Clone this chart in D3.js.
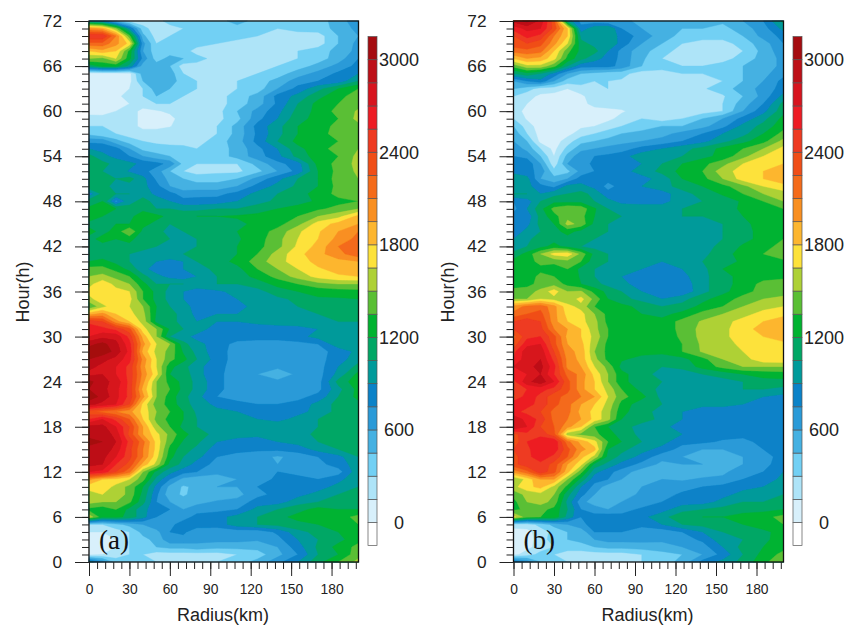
<!DOCTYPE html>
<html>
<head>
  <title>Hour radius sections</title>
  <script src="https://d3js.org/d3.v7.min.js"></script>
  <style>
    body { margin: 0; background: white; }
    text { font-family: "Liberation Sans", sans-serif; fill: #222; }
  </style>
</head>
<body>
  <div id="chart"></div>
  <script>
    // radius (km) of each column, hour of each row (top row first)
    var radii = [0,10,20,30,40,50,60,70,80,95,110,125,140,155,170,185,200];
    var hours = [72,71,70,69,68,67,66,65,64,63,62,61,60,59,58,57,56,55,54,53,52,51,50,49,48,47,46,45,44,43,42,41,40,39,38,37,36,35,34,33,32,31,30,29,28,27,26,25,24,23,22,21,20,19,18,17,16,15,14,13,12,11,10,9,8,7,6,5,4,3,2,1,0];

    var levels = d3.range(0, 3001, 150);
    var colors = ["#d8f0fb","#aee4f8","#72d0f4","#45b1e2","#2a9ad8","#0a82c8","#009a9a","#00a765","#00b330","#5abf34","#aed136","#fde23a","#fdb62f","#f98f20","#f46b1a","#f04e17","#ee3a20","#ed1c24","#d7141e","#bd1017","#a50c10"];

    var xTicks = [0,30,60,90,120,150,180];
    var yTicks = [0,6,12,18,24,30,36,42,48,54,60,66,72];
    var barLabels = [0,600,1200,1800,2400,3000];

    var panelA = [
      [900,800,450,225,225,225,375,375,375,375,525,375,375,375,375,525,700],
      [2000,1900,1500,900,350,225,225,300,375,375,375,375,300,375,375,500,650],
      [2550,2550,2100,1400,500,225,300,375,375,375,375,300,225,200,225,450,600],
      [2200,2200,2000,1750,650,300,300,375,375,300,225,225,200,150,225,450,650],
      [1800,1900,1800,1300,600,350,375,375,225,225,225,225,225,300,375,500,650],
      [1500,1450,1650,1250,700,375,500,450,375,225,225,225,225,300,375,525,750],
      [1100,1250,1250,1000,525,525,450,225,225,225,225,225,300,375,500,650,800],
      [75,75,75,100,525,600,525,300,225,225,225,300,375,525,650,780,900],
      [75,75,75,100,450,525,525,375,300,225,300,375,500,675,750,800,1050],
      [75,75,80,150,300,525,450,375,300,225,300,375,600,800,1000,1200,1350],
      [75,75,100,225,300,450,375,300,225,225,375,500,800,950,1150,1300,1430],
      [75,75,100,150,225,300,300,225,225,225,375,525,780,1050,1250,1350,1450],
      [75,90,150,225,100,130,180,225,225,240,450,650,850,1100,1250,1400,1520],
      [225,200,150,225,100,100,100,225,225,250,400,700,900,1150,1250,1350,1550],
      [300,300,225,225,100,100,140,225,225,300,500,800,1000,1200,1270,1400,1450],
      [400,300,300,225,225,225,225,225,225,300,500,780,1000,1200,1300,1400,1450],
      [700,700,500,375,300,260,225,200,225,375,525,800,1050,1250,1300,1350,1500],
      [900,850,800,600,400,375,375,375,300,375,500,700,900,1150,1300,1400,1500],
      [1100,950,850,750,600,500,450,400,375,375,500,680,850,1100,1280,1350,1550],
      [1200,1100,1000,950,850,800,700,400,300,300,300,500,700,830,1250,1400,1550],
      [1100,1050,1000,880,800,680,450,300,225,260,260,400,600,800,1200,1400,1530],
      [1150,1150,1050,1100,950,720,550,450,400,400,450,650,850,1050,1200,1420,1500],
      [1200,1100,1000,1000,950,800,600,500,500,500,600,800,950,1080,1200,1400,1450],
      [800,1100,1050,1050,1000,850,800,680,700,700,800,950,1050,1150,1250,1400,1400],
      [1150,1200,700,1000,1100,1000,900,800,800,820,900,1000,1080,1150,1220,1300,1350],
      [1220,1300,1200,1100,1150,1050,1050,1000,1000,1050,1050,1120,1200,1250,1320,1400,1500],
      [1300,1200,1150,1150,1300,1250,1150,1180,1200,1200,1220,1250,1300,1350,1500,1600,1850],
      [1150,1100,1200,1200,1250,1150,1050,1100,1100,1150,1150,1250,1300,1450,1720,1850,1950],
      [1250,1150,1250,1500,1150,1100,1000,1050,1080,1150,1200,1280,1400,1620,1780,1950,2100],
      [1150,1250,1200,1250,1100,1100,1050,1000,1050,1120,1180,1280,1450,1650,1800,2000,2150],
      [1200,1150,1100,1150,1100,1050,1000,1000,1050,1120,1200,1300,1450,1680,1850,2100,2250],
      [1100,1100,1050,1050,1000,950,1000,1050,1100,1150,1200,1350,1560,1750,1900,2050,2200],
      [1200,1250,1150,1050,950,900,850,900,1050,1120,1250,1420,1600,1720,1850,1900,1950],
      [1400,1400,1300,1150,950,820,800,900,1000,1080,1150,1350,1500,1650,1780,1850,1900],
      [1500,1550,1450,1350,1100,950,850,800,900,1050,1120,1250,1400,1560,1700,1780,1800],
      [1600,1750,1600,1500,1250,1050,1050,1050,1000,1050,1050,1120,1250,1350,1450,1500,1500],
      [1700,1750,1700,1650,1350,1150,1000,900,820,870,950,1000,1120,1200,1250,1280,1300],
      [1600,1750,1700,1700,1350,1150,1000,900,800,800,900,950,1020,1080,1180,1180,1200],
      [1350,1600,1750,1650,1500,1200,1050,950,850,850,850,950,1000,1050,1080,1100,1120],
      [1900,2000,1800,1700,1550,1180,1100,1000,850,900,900,950,1000,1020,1050,1050,1050],
      [2500,2400,2000,1800,1600,1150,1100,1000,900,900,900,950,1000,1000,1020,1050,1050],
      [2650,2600,2500,2300,1700,1500,1180,1050,980,820,820,800,800,830,900,1000,1000],
      [2700,2800,2800,2500,1900,1500,1050,950,850,825,825,790,790,850,950,1000,1000],
      [2950,3050,2900,2600,2000,1650,1500,1100,950,825,700,700,700,700,750,1000,1020],
      [3100,3100,2950,2650,1900,1600,1450,1180,1000,800,700,700,700,700,700,800,950],
      [3000,2900,2800,2600,2050,1650,1400,1250,1050,825,680,700,700,680,700,820,1000],
      [2900,2800,2700,2500,2000,1650,1250,1100,950,800,680,650,650,680,680,900,1100],
      [2800,2850,2700,2500,2050,1700,1200,1150,950,800,650,600,450,650,680,950,1250],
      [3050,2900,2800,2500,2000,1500,1300,1150,1000,800,650,650,650,650,680,1100,1300],
      [3000,2900,2750,2500,1900,1500,1350,1150,1000,800,650,650,650,650,700,1000,1250],
      [3100,2950,2750,2500,2000,1500,1280,1100,950,750,650,650,700,700,800,1050,1250],
      [2900,2800,2700,2400,1750,1420,1300,1100,1000,850,820,750,750,800,950,1100,1150],
      [2300,2200,2100,2000,1750,1500,1350,1200,1020,950,900,820,800,850,950,1100,1150],
      [2550,2700,2500,2250,1800,1450,1300,1200,1050,1000,950,900,850,950,1050,1100,1150],
      [2900,2900,2700,2400,1950,1550,1350,1150,1050,1000,1000,1000,1000,1000,1050,1120,1150],
      [2950,2950,2800,2350,1950,1700,1450,1250,1120,1000,950,950,950,1000,1080,1120,1200],
      [3050,3000,2850,2500,2150,1750,1400,1180,1080,900,850,800,900,950,1050,1100,1120],
      [2950,2950,2800,2450,2100,1750,1300,1100,1020,820,830,780,780,820,950,1050,1100],
      [2950,2900,2700,2450,2100,1700,1250,1050,950,750,650,650,580,650,750,850,1050],
      [2900,2850,2550,2350,1900,1600,1150,1000,830,700,600,650,600,600,700,820,980],
      [2700,2650,2400,2150,1500,1150,950,800,750,650,650,700,750,700,650,680,1000],
      [2000,1800,1750,1650,1400,1000,750,550,500,500,600,680,780,800,750,850,1020],
      [1700,1750,1600,1450,1200,850,550,430,480,600,600,750,750,820,830,950,1050],
      [1600,1650,1600,1450,1150,780,500,430,500,500,550,700,800,850,950,1050,1100],
      [1550,1500,1500,1380,1100,750,600,500,550,620,650,820,830,980,1050,1080,1120],
      [1300,1250,1350,1150,950,800,750,600,680,700,750,950,1050,1150,1250,1200,1200],
      [1600,1250,1250,1150,950,750,650,680,800,850,950,1050,1150,1250,1300,1280,1400],
      [300,300,400,500,600,700,700,830,830,820,980,1050,1100,1150,1200,1300,1350],
      [150,150,225,300,500,550,750,780,650,650,650,650,780,1000,1100,1200,1300],
      [75,75,150,300,400,500,700,700,650,650,650,620,700,900,1050,1150,1300],
      [75,75,150,300,375,450,500,500,550,500,500,500,600,830,1080,1250,1400],
      [100,150,225,300,300,225,225,225,225,225,300,375,550,750,1050,1200,1450],
      [1000,700,375,300,300,300,300,300,300,300,375,500,700,900,1150,1350,1550]
    ];

    var panelB = [
      [2900,3050,2800,2300,1000,700,650,600,650,550,525,525,500,480,600,750,1100],
      [2600,2750,2700,2350,1800,800,1000,1050,750,600,500,450,450,400,525,680,950],
      [2400,2600,2500,2100,1800,1000,950,1000,850,680,525,400,375,375,450,650,800],
      [2350,2400,2300,2000,1650,1100,1000,1050,830,600,450,300,225,225,375,525,750],
      [2150,2200,2150,1800,1400,1150,1100,900,700,500,375,225,200,200,300,500,700],
      [1800,1950,1900,1700,1300,1100,950,850,700,480,300,225,225,225,375,500,650],
      [1400,1600,1600,1400,1050,800,800,800,700,450,375,300,300,375,450,500,650],
      [1050,1150,1050,850,600,450,400,350,350,225,225,300,300,375,450,550,700],
      [600,750,850,600,375,375,300,300,280,225,225,225,225,300,450,600,800],
      [450,375,225,225,150,225,225,300,280,225,225,225,280,375,525,650,820],
      [300,200,120,90,90,120,225,225,225,225,225,225,225,280,450,650,950],
      [225,150,80,60,70,100,200,225,225,225,225,225,225,300,525,750,1100],
      [225,100,60,50,70,80,90,100,130,225,225,225,225,300,600,850,1150],
      [300,130,60,70,70,90,100,110,200,300,225,300,450,600,800,1000,1250],
      [450,225,70,70,80,120,150,225,300,375,450,450,550,700,950,1100,1300],
      [550,300,80,60,100,225,300,375,450,500,550,650,750,900,1000,1200,1400],
      [600,450,100,70,225,400,450,500,550,600,650,750,850,1000,1150,1300,1550],
      [700,550,300,100,350,550,600,650,680,800,900,1000,1100,1250,1350,1500,1700],
      [750,700,450,150,500,700,750,780,830,1000,1000,1050,1150,1250,1450,1650,1780],
      [800,850,600,200,600,650,800,820,830,900,1050,1200,1300,1450,1650,1750,1800],
      [850,800,700,350,400,650,750,830,850,950,1100,1250,1350,1580,1720,1800,1850],
      [1000,950,600,500,600,820,830,800,800,850,950,1200,1300,1500,1720,1800,1950],
      [950,950,800,700,950,950,850,700,800,900,1000,1100,1200,1300,1450,1650,1720],
      [1050,1050,900,1000,1050,1100,1000,800,800,830,820,1000,1100,1220,1350,1500,1600],
      [750,820,1050,1150,1150,1150,1050,950,850,830,830,1000,1050,1120,1220,1350,1500],
      [700,900,1150,1400,1500,1450,1220,1050,1000,1000,1000,1050,1100,1150,1220,1280,1350],
      [800,800,1100,1300,1450,1400,1200,1050,1050,980,1000,1050,1050,1100,1200,1300,1300],
      [800,850,1100,1200,1550,1450,1150,1050,1000,980,980,1000,1000,1050,1150,1280,1300],
      [800,950,1050,1150,1250,1150,1050,1050,950,1000,1000,1000,1000,1050,1150,1250,1350],
      [900,1000,1150,1150,1150,1050,1050,950,950,950,900,950,950,1050,1150,1250,1350],
      [950,1050,1150,1250,1150,1050,1000,950,950,950,950,900,980,1100,1220,1300,1400],
      [1100,1250,1500,1700,1750,1450,1150,1050,950,950,950,950,1000,1150,1250,1350,1500],
      [1250,1280,1400,1400,1450,1350,1100,1050,950,950,900,950,1050,1150,1220,1250,1300],
      [1200,1250,1300,1250,1350,1150,1050,950,900,900,880,900,1000,1200,1250,1280,1300],
      [1280,1250,1400,1350,1300,1180,1050,1000,900,850,880,850,1000,1150,1250,1280,1300],
      [1280,1300,1400,1450,1300,1200,1100,1000,950,820,780,800,1000,1150,1250,1400,1450],
      [1400,1420,1550,1720,1500,1520,1300,1150,1050,900,820,780,1000,1150,1300,1400,1420],
      [1500,1500,1650,1600,1550,1700,1450,1200,1100,1000,900,1000,1150,1280,1400,1500,1550],
      [2000,2150,2200,2000,1700,1600,1350,1280,1250,1150,1050,1100,1250,1350,1500,1600,1650],
      [2150,2250,2300,2000,1750,1700,1500,1300,1200,1200,1150,1250,1400,1500,1600,1700,1750],
      [2400,2500,2400,2000,1800,1700,1550,1300,1250,1250,1250,1400,1520,1600,1700,1800,1900],
      [2400,2500,2450,2100,1950,1800,1550,1350,1250,1250,1250,1400,1550,1600,1750,1850,1950],
      [2200,2500,2550,2300,1900,1800,1600,1350,1250,1200,1250,1380,1550,1600,1750,1800,1900],
      [2300,2650,2700,2300,1950,1850,1550,1300,1220,1200,1200,1350,1530,1600,1680,1700,1750],
      [2500,2800,2800,2400,2000,1900,1500,1300,1220,1250,1250,1350,1520,1600,1650,1780,1800],
      [2550,2800,2850,2500,2050,1900,1550,1300,1220,1150,1100,1150,1300,1500,1580,1750,1780],
      [2700,2800,2900,2600,2050,1950,1650,1450,1150,1050,1050,1100,1250,1400,1500,1500,1500],
      [2600,2700,2850,2550,2200,2050,1750,1500,1250,1100,1000,950,1050,1100,1200,1250,1280],
      [2500,2800,2950,2700,2300,2000,1800,1500,1250,1100,1050,1000,950,1000,1050,1150,1150],
      [2450,2550,2600,2500,2300,2000,1800,1600,1350,1150,1000,950,950,1000,1050,1050,1000],
      [2350,2650,2500,2300,2200,2100,1950,1650,1400,1250,1000,950,950,950,950,900,850],
      [2700,2600,2500,2300,2150,1950,1800,1600,1300,1100,1050,950,950,950,900,830,830],
      [2600,2500,2400,2200,2150,1900,1750,1550,1250,1100,1000,900,800,800,800,800,800],
      [2800,2650,2500,2200,2100,1950,1750,1550,1200,1100,1020,900,800,800,800,800,800],
      [2850,2700,2400,2250,2000,1800,1350,1200,1100,1000,950,820,800,800,800,800,800],
      [2350,2500,2500,2300,1550,1450,1400,1250,1150,1000,950,900,830,800,800,800,800],
      [2300,2550,2650,2700,2150,1900,1700,1350,1200,1050,950,800,780,730,700,800,800],
      [2400,2500,2700,2650,2300,2000,1850,1200,1100,950,850,680,600,600,600,750,800],
      [2350,2500,2650,2500,2250,1850,1600,1150,1000,850,650,600,580,580,600,700,800],
      [2350,2500,2500,2350,1950,1700,1150,1000,850,700,560,600,600,580,600,700,830],
      [2000,2200,2500,2300,1850,1400,950,800,680,520,560,500,530,580,650,750,900],
      [1500,1700,1950,1950,1500,1150,800,750,600,550,600,580,620,620,750,800,950],
      [1600,1750,1850,1600,1300,900,700,520,480,600,600,680,750,800,850,900,1000],
      [1400,1550,1600,1500,1100,800,600,500,550,620,680,780,800,850,950,1000,1050],
      [1300,1500,1560,1450,1000,650,520,550,600,650,750,820,830,950,1050,1050,1100],
      [1300,1400,1400,1300,1050,750,680,600,680,780,830,1000,1050,1100,1150,1150,1200],
      [1700,1400,1350,1300,1000,750,800,850,800,850,1000,1150,1200,1200,1250,1300,1400],
      [225,225,350,500,600,700,820,830,830,800,900,1050,1100,1150,1200,1300,1350],
      [75,100,225,350,450,500,750,750,750,650,650,750,900,1050,1100,1150,1280],
      [75,75,225,375,450,500,600,650,650,650,620,680,780,1000,1050,1150,1300],
      [75,100,225,300,375,375,450,500,500,520,560,600,680,900,1100,1200,1300],
      [100,225,350,300,225,225,225,225,225,300,375,450,600,800,1050,1250,1400],
      [900,700,450,300,300,300,225,225,225,300,375,500,800,950,1100,1300,1500]
    ];

    var svg = d3.select("#chart")
                .append("svg")
                .attr("width", 846)
                .attr("height", 630);

    // the reference is a slightly soft raster
    svg.append("filter")
       .attr("id", "soft")
       .append("feGaussianBlur")
       .attr("stdDeviation", 0.6);

    // index in the grid -> real radius / hour
    var colToRadius = d3.scaleLinear().domain(radii.map((d, i) => i)).range(radii);
    var rowToHour = d3.scaleLinear().domain(hours.map((d, i) => i)).range(hours);

    function drawPanel(rows, left, right, name) {
      var top = 21, bottom = 562;
      var g = svg.append("g");

      var xScale = d3.scaleLinear().domain([0, 200]).range([left, right]);
      var yScale = d3.scaleLinear().domain([0, 72]).range([bottom, top]);

      var nCols = radii.length, nRows = hours.length;
      var contours = d3.contours()
                       .size([nCols, nRows])
                       .thresholds(levels)
                       .smooth(true)(rows.flat());

      var path = d3.geoPath(d3.geoTransform({
        point: function(x, y) {
          var cx = Math.max(0, Math.min(nCols - 1, x - 0.5));
          var cy = Math.max(0, Math.min(nRows - 1, y - 0.5));
          this.stream.point(xScale(colToRadius(cx)), yScale(rowToHour(cy)));
        }
      }));

      g.append("g")
       .attr("filter", "url(#soft)")
       .selectAll("path.band")
       .data(contours)
       .enter()
       .append("path")
       .attr("class", "band")
       .attr("d", path)
       .attr("fill", (d, i) => colors[i])
       .attr("stroke", (d, i) => colors[i])
       .attr("stroke-width", 0.4);

      // Frame
      g.append("rect")
       .attr("x", left)
       .attr("y", top)
       .attr("width", right - left)
       .attr("height", bottom - top)
       .attr("fill", "none")
       .attr("stroke", "#111")
       .attr("stroke-width", 1.3);

      // Axes: long ticks with labels, short ticks without
      var xMajor = g.append("g")
        .attr("transform", `translate(0, ${bottom})`)
        .call(d3.axisBottom(xScale).tickValues(xTicks).tickSize(14).tickPadding(8));
      g.append("g")
        .attr("transform", `translate(0, ${bottom})`)
        .call(d3.axisBottom(xScale).tickValues(d3.range(0, 199, 6)).tickSize(7).tickFormat(""));
      var yMajor = g.append("g")
        .attr("transform", `translate(${left}, 0)`)
        .call(d3.axisLeft(yScale).tickValues(yTicks).tickSize(14).tickPadding(13));
      g.append("g")
        .attr("transform", `translate(${left}, 0)`)
        .call(d3.axisLeft(yScale).tickValues(d3.range(0, 73, 1)).tickSize(7).tickFormat(""));

      g.selectAll(".domain").remove();
      g.selectAll(".tick line").attr("stroke", "#222").attr("stroke-width", 1);
      xMajor.selectAll("text").style("font-size", "13.8px").attr("fill", "#222");
      yMajor.selectAll("text").style("font-size", "17.3px").attr("fill", "#222");

      g.append("text")
       .attr("x", left + 134)
       .attr("y", 621)
       .style("text-anchor", "middle")
       .style("font-size", "18px")
       .text("Radius(km)");

      g.append("text")
       .attr("transform", `translate(${left - 60}, 292) rotate(-90)`)
       .style("text-anchor", "middle")
       .style("font-size", "18px")
       .text("Hour(h)");

      g.append("text")
       .attr("x", left + 10)
       .attr("y", 549)
       .style("font-family", "'Liberation Serif', serif")
       .style("font-size", "27px")
       .style("fill", "#111")
       .text(name);

      // Colour bar
      var barLeft = right + 9.5, barWidth = 9;
      var barScale = d3.scaleLinear().domain([0, 3000]).range([522.5, 59.7]);
      var step = barScale(0) - barScale(150);
      var boxes = [-150].concat(levels);
      var boxColors = ["#ffffff"].concat(colors);

      g.selectAll("rect.box")
       .data(boxes)
       .enter()
       .append("rect")
       .attr("class", "box")
       .attr("x", barLeft)
       .attr("y", d => barScale(d) - step)
       .attr("width", barWidth)
       .attr("height", step)
       .attr("fill", (d, i) => boxColors[i])
       .attr("stroke", "#555")
       .attr("stroke-width", 0.7);

      g.selectAll("text.bar")
       .data(barLabels)
       .enter()
       .append("text")
       .attr("class", "bar")
       .attr("x", barLeft + 31)
       .attr("y", d => barScale(d) + 6.5)
       .style("text-anchor", "middle")
       .style("font-size", "18px")
       .text(d => d);
    }

    drawPanel(panelA, 89, 358.5, "(a)");
    drawPanel(panelB, 513.5, 783.5, "(b)");
  </script>
</body>
</html>
